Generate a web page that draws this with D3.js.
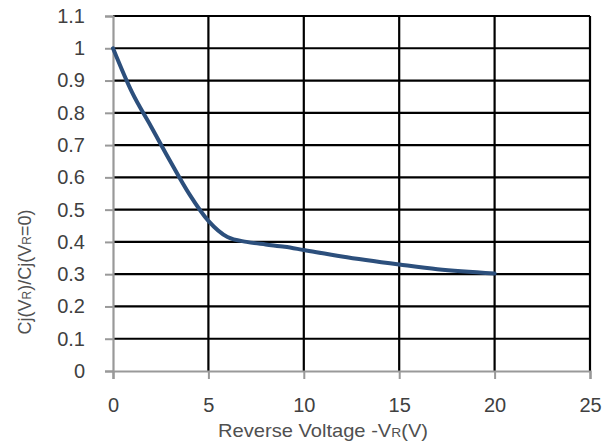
<!DOCTYPE html>
<html>
<head>
<meta charset="utf-8">
<script src="https://cdn.jsdelivr.net/npm/d3@7"></script>
<style>
  body { margin: 0; background: #fff; }
  text { font-family: "Liberation Sans", Arial, sans-serif; }
</style>
</head>
<body>
<div id="chart"></div>
<script>
// reverse voltage (V) and normalised capacitance
const voltage = [0, 1, 2, 3, 4, 5, 6, 7, 8, 9, 10, 12, 15, 17, 20];
const capRatio = [1, 0.863, 0.757, 0.65, 0.548, 0.465, 0.415, 0.4, 0.392, 0.385, 0.375, 0.355, 0.33, 0.315, 0.302];
const xTicks = [0, 5, 10, 15, 20, 25];
const yTicks = [0, 0.1, 0.2, 0.3, 0.4, 0.5, 0.6, 0.7, 0.8, 0.9, 1, 1.1];

(function() {
  'use strict';

  let width = 616,
      height = 444,
      margin = {top: 16, right: 26, bottom: 73, left: 113},

      svg = d3.select('#chart')
        .append('svg')
        .attr('width', width)
        .attr('height', height),

      x = d3.scaleLinear()
        .domain([0, 25])
        .range([margin.left, width - margin.right]),

      y = d3.scaleLinear()
        .domain([0, 1.1])
        .range([height - margin.bottom, margin.top]);

  // horizontal gridlines
  svg.append('g')
    .selectAll('line')
    .data(yTicks.filter(d => d > 0))
    .enter()
    .append('line')
      .attr('x1', x(0))
      .attr('x2', x(25))
      .attr('y1', d => y(d))
      .attr('y2', d => y(d))
      .attr('stroke', '#000')
      .attr('stroke-width', 2.2);

  // vertical gridlines
  svg.append('g')
    .selectAll('line')
    .data(xTicks.filter(d => d > 0))
    .enter()
    .append('line')
      .attr('x1', d => x(d))
      .attr('x2', d => x(d))
      .attr('y1', y(0))
      .attr('y2', y(1.1))
      .attr('stroke', '#000')
      .attr('stroke-width', 2.2);

  // y axis
  let yAxis = svg.append('g')
    .attr('transform', `translate(${x(0)},0)`)
    .call(d3.axisLeft(y).tickValues(yTicks).tickFormat(d3.format('~g')).tickSize(8).tickPadding(20));
  yAxis.select('.domain').attr('stroke', '#999').attr('stroke-width', 2.2);
  yAxis.selectAll('.tick line').attr('stroke', '#999').attr('stroke-width', 2);
  yAxis.selectAll('.tick text')
    .attr('fill', '#404040')
    .style('font-size', '20px')
    .style('font-family', '"Liberation Sans", Arial, sans-serif');

  // x axis
  let xAxis = svg.append('g')
    .attr('transform', `translate(0,${y(0)})`)
    .call(d3.axisBottom(x).tickValues(xTicks).tickSize(8).tickPadding(19));
  xAxis.select('.domain').attr('stroke', '#999').attr('stroke-width', 2.2);
  xAxis.selectAll('.tick line').attr('stroke', '#999').attr('stroke-width', 2);
  xAxis.selectAll('.tick text')
    .attr('fill', '#404040')
    .style('font-size', '20px')
    .style('font-family', '"Liberation Sans", Arial, sans-serif');

  // curve
  let line = d3.line()
    .x((d, i) => x(voltage[i]))
    .y(d => y(d))
    .curve(d3.curveMonotoneX);

  svg.append('path')
    .datum(capRatio)
    .attr('d', line)
    .attr('fill', 'none')
    .attr('stroke', '#2c4f7c')
    .attr('stroke-width', 4)
    .attr('stroke-linecap', 'round');

  // x axis title
  let xt = svg.append('text')
    .attr('transform', 'translate(323,437) scale(1.15,1)')
    .attr('text-anchor', 'middle')
    .attr('fill', '#505050')
    .style('font-size', '17.5px');
  xt.append('tspan').text('Reverse Voltage -V');
  xt.append('tspan').style('font-size', '12px').text('R');
  xt.append('tspan').text('(V)');

  // y axis title
  let yt = svg.append('text')
    .attr('transform', 'translate(31,272) rotate(-90)')
    .attr('text-anchor', 'middle')
    .attr('fill', '#505050')
    .style('font-size', '18px');
  yt.append('tspan').text('Cj(V');
  yt.append('tspan').style('font-size', '12px').text('R');
  yt.append('tspan').text(')/Cj(V');
  yt.append('tspan').style('font-size', '12px').text('R');
  yt.append('tspan').text('=0)');

})();
</script>
</body>
</html>
